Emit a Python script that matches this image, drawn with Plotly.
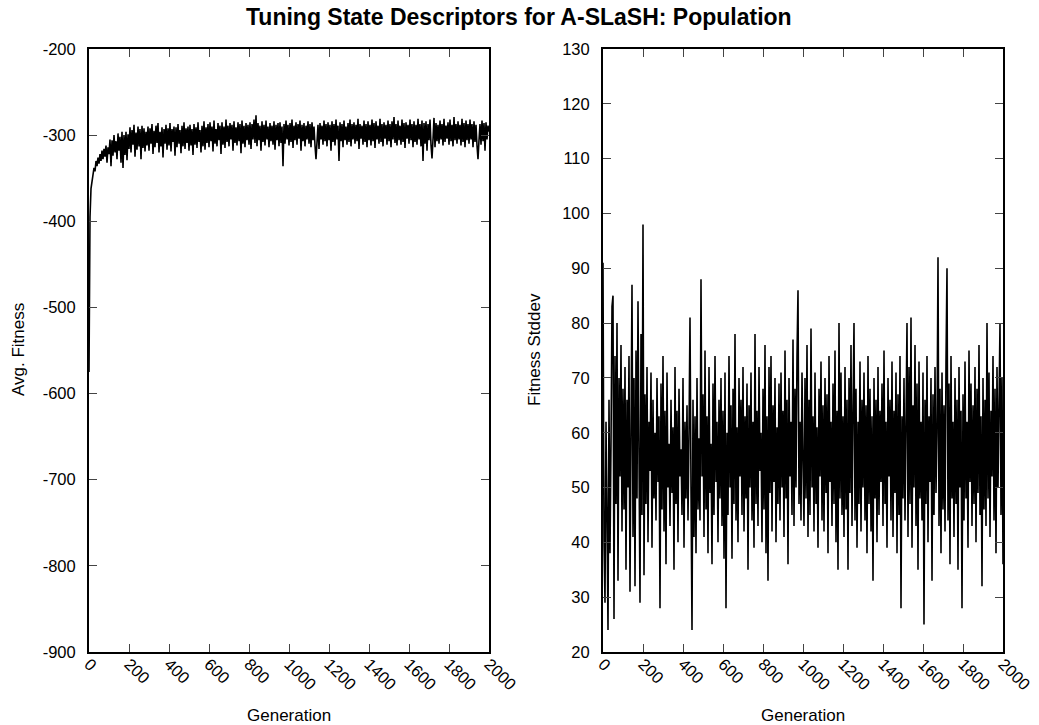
import plotly.graph_objects as go
from plotly.subplots import make_subplots

# Generations sampled every 5 steps (0 .. 2000)
generation = list(range(0, 2001, 5))

# Average population fitness per sampled generation
avg_fitness = [
    -575, -395, -362, -352, -345, -338, -342, -330, -336, -326, -333, -322, -330, -318, -328, -316, -325, -312, -332, -314,
    -322, -305, -336, -306, -324, -300, -320, -307, -328, -298, -318, -302, -332, -296, -338, -300, -323, -296, -329, -299,
    -316, -291, -320, -294, -311, -288, -325, -297, -317, -290, -313, -293, -328, -289, -315, -292, -319, -296, -312, -290,
    -318, -292, -310, -287, -322, -295, -314, -289, -309, -286, -320, -296, -313, -291, -326, -293, -310, -288, -317, -292,
    -312, -286, -319, -293, -308, -290, -324, -291, -314, -287, -310, -294, -321, -289, -313, -285, -316, -292, -309, -290,
    -318, -288, -312, -293, -323, -287, -311, -291, -315, -285, -308, -294, -320, -289, -313, -284, -317, -291, -309, -287,
    -314, -285, -307, -290, -319, -283, -310, -293, -313, -286, -306, -289, -322, -285, -311, -290, -315, -282, -308, -289,
    -313, -286, -305, -288, -318, -284, -309, -291, -312, -285, -307, -287, -321, -283, -310, -289, -314, -286, -306, -288,
    -311, -285, -316, -287, -305, -282, -309, -277, -313, -286, -306, -289, -318, -284, -308, -288, -312, -283, -305, -290,
    -314, -286, -307, -289, -311, -284, -317, -288, -306, -286, -313, -285, -309, -290, -336, -287, -310, -283, -305, -288,
    -312, -286, -308, -282, -315, -289, -306, -285, -311, -287, -304, -283, -318, -288, -307, -286, -313, -289, -305, -284,
    -310, -287, -314, -285, -306, -290, -312, -328, -308, -288, -316, -286, -305, -289, -311, -283, -307, -287, -313, -285,
    -306, -288, -318, -284, -308, -287, -312, -282, -305, -289, -330, -285, -307, -287, -314, -283, -306, -290, -311, -286,
    -308, -282, -313, -287, -305, -285, -310, -288, -307, -281, -316, -287, -304, -289, -311, -283, -308, -287, -314, -284,
    -306, -288, -312, -282, -307, -286, -315, -284, -305, -289, -310, -281, -308, -287, -313, -285, -304, -288, -311, -283,
    -307, -287, -314, -284, -305, -279, -309, -287, -312, -283, -306, -289, -311, -282, -308, -286, -315, -285, -304, -288,
    -310, -282, -306, -287, -314, -284, -308, -288, -311, -281, -305, -287, -313, -283, -330, -286, -310, -284, -318, -287,
    -306, -282, -311, -327, -305, -280, -314, -286, -307, -288, -310, -283, -305, -287, -312, -281, -308, -289, -304, -285,
    -311, -282, -307, -288, -313, -279, -306, -287, -310, -284, -305, -288, -312, -281, -308, -286, -314, -283, -306, -287,
    -310, -282, -305, -287, -314, -284, -308, -288, -312, -328, -306, -287, -311, -283, -307, -286, -318, -285, -305, -289,
    -296,
]

# Standard deviation of population fitness per sampled generation
fitness_stddev = [
    91, 40, 29, 62, 45, 24, 66, 38, 58, 83, 85, 26, 74, 47, 80, 33, 70, 52, 76, 42,
    68, 46, 72, 35, 66, 50, 74, 31, 60, 87, 41, 70, 32, 75, 48, 84, 56, 29, 78, 45,
    98, 34, 67, 47, 72, 40, 62, 53, 71, 39, 66, 48, 60, 44, 70, 51, 63, 28, 69, 46,
    74, 42, 64, 36, 71, 50, 58, 43, 66, 49, 61, 35, 72, 47, 64, 40, 68, 52, 57, 45,
    70, 39, 62, 48, 65, 44, 60, 81, 50, 24, 66, 41, 63, 38, 70, 46, 59, 44, 88, 52,
    67, 41, 75, 46, 63, 38, 72, 49, 58, 36, 69, 45, 74, 51, 62, 40, 66, 48, 70, 43,
    64, 37, 71, 28, 60, 45, 74, 50, 65, 37, 68, 47, 78, 44, 61, 40, 70, 52, 66, 45,
    72, 42, 63, 48, 69, 35, 65, 50, 71, 44, 62, 39, 78, 47, 64, 43, 72, 53, 60, 40,
    68, 46, 76, 38, 63, 33, 72, 49, 74, 42, 65, 51, 70, 40, 61, 47, 69, 44, 71, 50,
    64, 41, 75, 48, 66, 36, 70, 52, 62, 45, 77, 43, 68, 50, 74, 86, 47, 62, 44, 71,
    55, 43, 70, 48, 76, 41, 66, 45, 79, 50, 63, 42, 71, 47, 61, 39, 68, 52, 73, 44,
    65, 42, 70, 49, 67, 38, 74, 51, 62, 43, 69, 47, 75, 40, 64, 35, 80, 48, 71, 45,
    63, 41, 72, 46, 66, 35, 70, 49, 76, 43, 64, 80, 44, 68, 39, 62, 47, 73, 42, 66,
    50, 71, 44, 65, 38, 74, 47, 68, 42, 63, 33, 70, 48, 66, 40, 72, 45, 64, 51, 69,
    43, 75, 47, 62, 39, 70, 52, 66, 44, 73, 41, 64, 49, 71, 38, 67, 45, 74, 28, 63,
    48, 70, 44, 66, 80, 41, 72, 47, 81, 39, 65, 50, 76, 43, 69, 35, 73, 48, 62, 44,
    71, 25, 66, 47, 74, 40, 63, 51, 70, 33, 67, 45, 72, 49, 60, 92, 43, 68, 38, 71,
    46, 65, 42, 73, 90, 44, 69, 36, 74, 48, 62, 41, 70, 47, 66, 35, 72, 50, 64, 28,
    67, 44, 73, 48, 62, 39, 75, 51, 69, 43, 65, 47, 72, 40, 68, 49, 76, 45, 63, 32,
    70, 46, 66, 43, 80, 48, 71, 41, 64, 52, 74, 44, 68, 38, 72, 50, 65, 80, 45, 70,
    36,
]

x_ticks = list(range(0, 2001, 200))
left_y_ticks = list(range(-900, -199, 100))
right_y_ticks = list(range(20, 131, 10))

W, H = 1039, 725
FONT = "Liberation Sans, Arial, Helvetica, sans-serif"

fig = make_subplots(rows=1, cols=2)

fig.add_trace(go.Scatter(x=generation, y=avg_fitness, mode="lines",
                         line=dict(color="black", width=1.6), showlegend=False),
              row=1, col=1)
fig.add_trace(go.Scatter(x=generation, y=fitness_stddev, mode="lines",
                         line=dict(color="black", width=1.6), showlegend=False),
              row=1, col=2)

axis_common = dict(
    showline=True, linecolor="black", linewidth=2, mirror="ticks",
    ticks="inside", ticklen=8, tickwidth=1, tickcolor="#444",
    showgrid=False, zeroline=False, automargin=False,
    tickfont=dict(family=FONT, size=16.5, color="black"),
)

y_top = 1 - 49 / H
y_bot = 1 - 652 / H

fig.update_xaxes(range=[0, 2000], tickvals=x_ticks,
                 ticktext=[str(v) for v in x_ticks], tickangle=45,
                 ticklabelstandoff=-6, ticklabelshift=0, **axis_common)
fig.update_yaxes(ticklabelstandoff=8, domain=[y_bot, y_top], **axis_common)

fig.update_layout(
    xaxis=dict(domain=[89 / W, 489 / W]),
    xaxis2=dict(domain=[603 / W, 1003 / W]),
    yaxis=dict(range=[-900, -200], tickvals=left_y_ticks,
               ticktext=[str(v) for v in left_y_ticks]),
    yaxis2=dict(range=[20, 130], tickvals=right_y_ticks,
                ticktext=[str(v) for v in right_y_ticks]),
)

label_font = dict(family=FONT, size=17, color="black")
annotations = [
    dict(text="<b>Tuning State Descriptors for A-SLaSH: Population</b>",
         x=519 / W, y=1 - 17 / H, xref="paper", yref="paper",
         showarrow=False, font=dict(family=FONT, size=23, color="black"),
         xanchor="center", yanchor="middle"),
    dict(text="Generation", x=289 / W, y=1 - 715 / H, xref="paper", yref="paper",
         showarrow=False, font=label_font, xanchor="center", yanchor="middle"),
    dict(text="Generation", x=803 / W, y=1 - 715 / H, xref="paper", yref="paper",
         showarrow=False, font=label_font, xanchor="center", yanchor="middle"),
    dict(text="Avg. Fitness", x=18 / W, y=1 - 350 / H, xref="paper", yref="paper",
         showarrow=False, font=label_font, textangle=-90,
         xanchor="center", yanchor="middle"),
    dict(text="Fitness Stddev", x=534 / W, y=1 - 350 / H, xref="paper", yref="paper",
         showarrow=False, font=label_font, textangle=-90,
         xanchor="center", yanchor="middle"),
]

fig.update_layout(
    width=W, height=H, autosize=False,
    margin=dict(l=0, r=0, t=0, b=0),
    paper_bgcolor="white", plot_bgcolor="white",
    annotations=annotations,
    font=dict(family=FONT, color="black"),
)

fig.write_html("out.html")
